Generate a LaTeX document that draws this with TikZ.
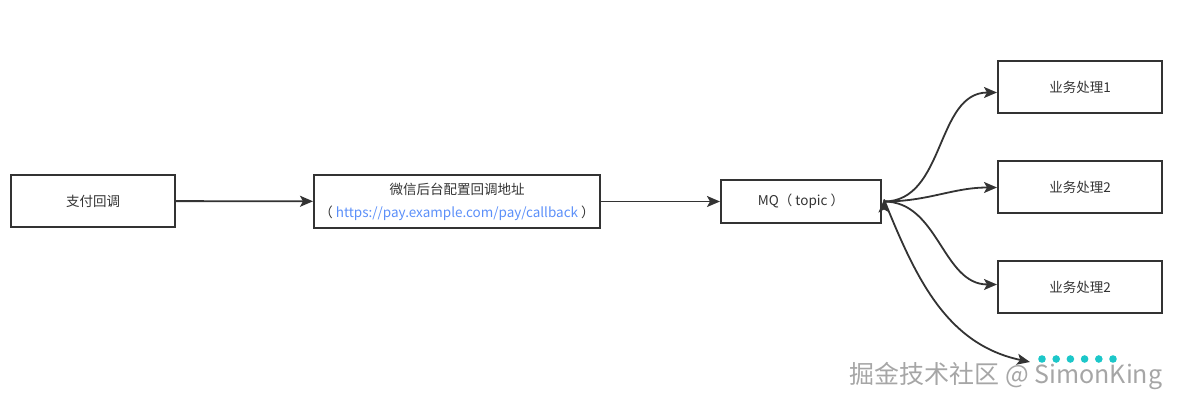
\documentclass[tikz,border=0pt]{standalone}
\usepackage{fontspec}
\setmainfont{Noto Sans CJK SC}
\usetikzlibrary{positioning,arrows.meta}
\definecolor{inkgray}{HTML}{333333}
\definecolor{linkblue}{HTML}{5B8FF9}
\definecolor{dotcyan}{HTML}{1CC7C9}

\begin{document}
\begin{tikzpicture}[x=1pt,y=-1pt,->,>={Stealth[length=13pt,width=11pt,inset=3pt]},draw=inkgray,
  box/.style={draw=inkgray,line width=2pt,rectangle,minimum width=164pt,minimum height=52pt,inner sep=0pt,text=inkgray,font=\fontsize{13.5}{23}\selectfont,align=center},
  flow/.style={draw=inkgray,line width=1.8pt}]
  \useasboundingbox (0,0) rectangle (1179,406);

  \node[box] (pay) at (93,201) {支付回调};
  \node[box,minimum width=286pt,minimum height=53pt,right=137pt of pay,yshift=-0.5pt] (wechat)
    {微信后台配置回调地址\\（ \textcolor{linkblue}{https://pay.example.com/pay/callback} ）};
  \node[box,minimum width=160pt,minimum height=43pt,right=119pt of wechat] (mq) {MQ（ topic ）};

  \node[box,right=115pt of mq,yshift=14pt] (biz2) {业务处理2};
  \node[box,above=46pt of biz2] (biz1) {业务处理1};
  \node[box,below=46pt of biz2] (biz3) {业务处理2};

  % dots of the cut off box
  \coordinate (more) at (1030,362);
  \foreach \i in {0,...,5}
    \fill[dotcyan] (1042+14.2*\i,359) circle (3.8pt);

  \path[flow]
    (pay) edge (wechat)
    (wechat) edge (mq)
    ([xshift=2pt]mq.east) edge[out=0,in=180] ([yshift=-5pt]biz1.west)
    ([xshift=2pt]mq.east) edge[out=0,in=180] (biz2.west)
    ([xshift=2pt]mq.east) edge[out=0,in=180] ([yshift=3pt]biz3.west)
    ([xshift=2pt,yshift=2pt]mq.east) edge[out=-68,in=168] (more)
  ;

  \node[text=gray!70,font=\fontsize{25}{30}\selectfont,inner sep=0pt] (mark) at (1006,376) {掘金技术社区 @ SimonKing};
\end{tikzpicture}
\end{document}
